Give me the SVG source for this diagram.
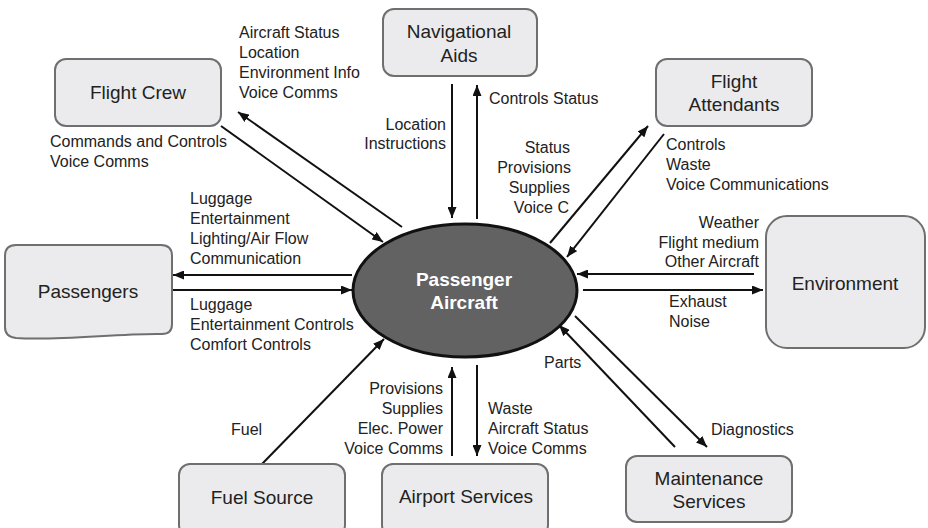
<svg xmlns="http://www.w3.org/2000/svg" width="928" height="528" viewBox="0 0 928 528">
<style>
.box{fill:#ebebed;stroke:#6f6f6f;stroke-width:2}
.nl{font-family:"Liberation Sans",Arial,sans-serif;font-size:19px;fill:#222;text-anchor:middle}
.el{font-family:"Liberation Sans",Arial,sans-serif;font-size:16px;fill:#222}
.r{text-anchor:end}
.c{stroke:#111;stroke-width:2;fill:none;marker-end:url(#ah)}
</style>
<defs>
<marker id="ah" markerUnits="userSpaceOnUse" markerWidth="11" markerHeight="9" refX="11" refY="4.5" orient="auto">
<path d="M0,0 L11,4.5 L0,9 Z" fill="#111"/>
</marker>
</defs>
<rect width="928" height="528" fill="#fff"/>
<g id="connectors">
<line class="c" x1="221" y1="126" x2="383" y2="242"/>
<line class="c" x1="402" y1="227" x2="238" y2="112"/>
<line class="c" x1="452" y1="84" x2="452" y2="218"/>
<line class="c" x1="477" y1="219" x2="477" y2="85"/>
<line class="c" x1="550" y1="243" x2="648" y2="126"/>
<line class="c" x1="664" y1="134" x2="567" y2="257"/>
<line class="c" x1="352" y1="275" x2="173" y2="275"/>
<line class="c" x1="172" y1="290" x2="352" y2="290"/>
<line class="c" x1="754" y1="274" x2="577" y2="274"/>
<line class="c" x1="583" y1="290" x2="763" y2="290"/>
<line class="c" x1="675" y1="447" x2="559" y2="325"/>
<line class="c" x1="575" y1="316" x2="707" y2="447"/>
<line class="c" x1="262" y1="464" x2="384" y2="339"/>
<line class="c" x1="452" y1="456" x2="452" y2="367"/>
<line class="c" x1="477" y1="365" x2="477" y2="456"/>
</g>
<g id="aircraft">
<ellipse cx="465" cy="290.5" rx="112" ry="66.5" fill="#626262" stroke="#111" stroke-width="3"/>
<text x="464" y="286" font-family="Liberation Sans,Arial,sans-serif" font-size="19" font-weight="bold" fill="#fff" text-anchor="middle">Passenger</text>
<text x="464" y="309" font-family="Liberation Sans,Arial,sans-serif" font-size="19" font-weight="bold" fill="#fff" text-anchor="middle">Aircraft</text>
</g>
<g id="flight-crew">
<rect class="box" x="55" y="59" width="166" height="67" rx="11"/>
<text class="nl" x="138" y="99">Flight Crew</text>
</g>
<g id="navigational-aids">
<rect class="box" x="383" y="9" width="154" height="67" rx="11"/>
<text class="nl" x="459" y="38">Navigational</text>
<text class="nl" x="459" y="62">Aids</text>
</g>
<g id="flight-attendants">
<rect class="box" x="656" y="59" width="156" height="67" rx="11"/>
<text class="nl" x="734" y="88">Flight</text>
<text class="nl" x="734" y="111">Attendants</text>
</g>
<g id="passengers">
<path class="box" d="M16,245 H161 Q172,245 172,256 V324 Q172,334 162,334 C120,333 60,341 16,338 Q5,337 5,327 V256 Q5,245 16,245 Z"/>
<text class="nl" x="88" y="298">Passengers</text>
</g>
<g id="environment">
<rect class="box" x="766" y="216" width="159" height="132" rx="21"/>
<text class="nl" x="845" y="290">Environment</text>
</g>
<g id="fuel-source">
<rect class="box" x="179" y="464" width="166" height="72" rx="11"/>
<text class="nl" x="262" y="504">Fuel Source</text>
</g>
<g id="airport-services">
<rect class="box" x="382" y="464" width="166" height="72" rx="11"/>
<text class="nl" x="466" y="503">Airport Services</text>
</g>
<g id="maintenance-services">
<rect class="box" x="626" y="456" width="166" height="66" rx="11"/>
<text class="nl" x="709" y="485">Maintenance</text>
<text class="nl" x="709" y="508">Services</text>
</g>
<g id="labels">
<text class="el" x="239" y="38">Aircraft Status</text>
<text class="el" x="239" y="58">Location</text>
<text class="el" x="239" y="78">Environment Info</text>
<text class="el" x="239" y="98">Voice Comms</text>
<text class="el" x="50" y="147">Commands and Controls</text>
<text class="el" x="50" y="167">Voice Comms</text>
<text class="el" x="489" y="104">Controls Status</text>
<text class="el r" x="446" y="130">Location</text>
<text class="el r" x="446" y="149">Instructions</text>
<text class="el r" x="570" y="153">Status</text>
<text class="el r" x="571" y="173">Provisions</text>
<text class="el r" x="570" y="193">Supplies</text>
<text class="el r" x="569" y="213">Voice C</text>
<text class="el" x="666" y="150">Controls</text>
<text class="el" x="666" y="170">Waste</text>
<text class="el" x="666" y="190">Voice Communications</text>
<text class="el" x="190" y="204">Luggage</text>
<text class="el" x="190" y="224">Entertainment</text>
<text class="el" x="190" y="244">Lighting/Air Flow</text>
<text class="el" x="190" y="264">Communication</text>
<text class="el" x="190" y="310">Luggage</text>
<text class="el" x="190" y="330">Entertainment Controls</text>
<text class="el" x="190" y="350">Comfort Controls</text>
<text class="el r" x="759" y="228">Weather</text>
<text class="el r" x="759" y="248">Flight medium</text>
<text class="el r" x="759" y="267">Other Aircraft</text>
<text class="el" x="669" y="307">Exhaust</text>
<text class="el" x="669" y="327">Noise</text>
<text class="el" x="544" y="368">Parts</text>
<text class="el" x="711" y="435">Diagnostics</text>
<text class="el" x="231" y="435">Fuel</text>
<text class="el r" x="443" y="394">Provisions</text>
<text class="el r" x="443" y="414">Supplies</text>
<text class="el r" x="443" y="434">Elec. Power</text>
<text class="el r" x="443" y="454">Voice Comms</text>
<text class="el" x="488" y="414">Waste</text>
<text class="el" x="488" y="434">Aircraft Status</text>
<text class="el" x="488" y="454">Voice Comms</text>
</g>
</svg>
